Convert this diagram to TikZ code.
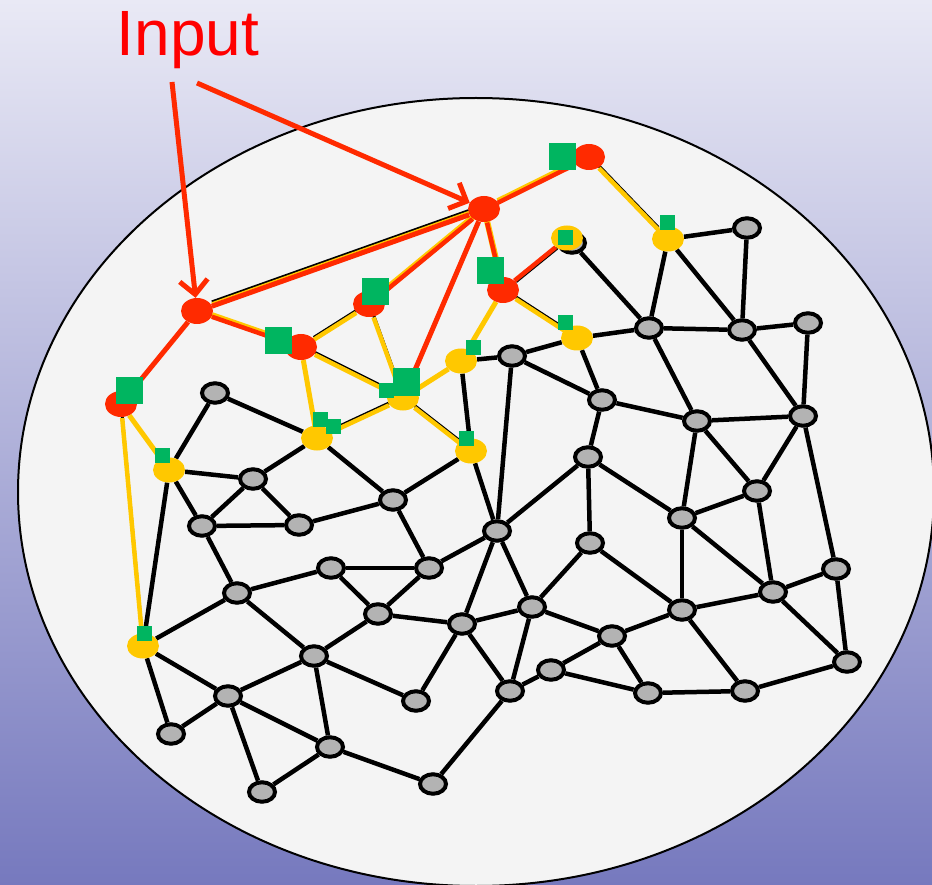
\documentclass[tikz,border=0pt]{standalone}
\usepackage{fontspec}
\setmainfont{Liberation Sans}
\usetikzlibrary{shapes.geometric,arrows.meta}
\pgfdeclarelayer{bgl}\pgfdeclarelayer{edgel}\pgfdeclarelayer{front}
\pgfsetlayers{bgl,edgel,main,front}
\definecolor{gnode}{HTML}{B3B3B3}
\definecolor{ynode}{HTML}{FFC800}
\definecolor{rnode}{HTML}{FF2A00}
\definecolor{gsq}{HTML}{00B560}
\definecolor{bgtop}{HTML}{E9E9F5}
\definecolor{bgbot}{HTML}{7679BE}
\definecolor{ellfill}{HTML}{F4F4F4}
\definecolor{txtred}{HTML}{FF0000}
\tikzset{
 gn/.style={ellipse, draw=black, line width=4pt, fill=gnode, minimum width=26pt, minimum height=19.5pt, inner sep=0pt},
 yn/.style={ellipse, fill=ynode, minimum width=32pt, minimum height=25pt, inner sep=0pt},
 rn/.style={ellipse, fill=rnode, minimum width=32pt, minimum height=26pt, inner sep=0pt},
 bsq/.style={rectangle, fill=gsq, minimum size=27pt, inner sep=0pt},
 ssq/.style={rectangle, fill=gsq, minimum size=15pt, inner sep=0pt},
 bl/.style={draw=black, line width=4.5pt},
 yl/.style={draw=ynode, line width=5pt},
 rl/.style={draw=rnode, line width=5pt},
 arr/.style={draw=rnode, line width=5pt, -{Straight Barb[length=14pt,width=28pt]}},
}
\begin{document}
\begin{tikzpicture}[x=1pt,y=-1pt]
\useasboundingbox (0,0) rectangle (932,885);
\begin{pgfonlayer}{bgl}
\fill[top color=bgtop, bottom color=bgbot] (0,0) rectangle (932,885);
\draw[line width=2pt, fill=ellfill] (476,492) ellipse [x radius=458pt, y radius=394pt];
\end{pgfonlayer}

% gray nodes
\foreach \n/\x/\y in {g1/215/393, g2/253/479, g3/202/526, g4/299/525, g5/393/500, g6/497/531,
  g7/331/568, g8/429/568, g9/237/593, g10/378/614, g11/462/624, g12/314/656, g13/228/696,
  g14/416/701, g15/171/734, g16/330/747, g17/262/792, g18/433/784, g19/512/356, g20/649/328,
  g21/742/330, g22/808/323, g23/747/228, g24/602/400, g25/697/421, g26/803/416, g27/588/457,
  g28/757/491, g29/682/518, g30/590/543, g31/532/607, g32/682/610, g33/773/592, g34/836/569,
  g35/612/636, g36/551/670, g37/510/691, g38/648/693, g39/745/691, g40/847/662, yAs/572/243}
  \node[gn] (\n) at (\x,\y) {};

% yellow nodes
\foreach \n/\x/\y in {yA/567/238, yB/668/239, yC/577/338, yD/461/361, yE/403/398,
  yF/317/438, yG/471/451, yH/169/470, yI/143/646}
  \node[yn] (\n) at (\x,\y) {};

% red nodes
\foreach \n/\x/\y in {rA/197/311, rB/484/209, rC/589/157, rD/369/304, rE/301/347,
  rF/503/290, rG/121/404}
  \node[rn] (\n) at (\x,\y) {};

\begin{pgfonlayer}{edgel}
% base black edges
\foreach \a/\b in {g1/yH, g1/yF, yH/g2, yH/g3, yH/yI, g2/yF, g2/g3, g2/g4, g3/g4, g4/g5,
  yF/g5, g5/yG, g5/g8, g3/g9, g9/g7, g9/yI, g9/g12, g7/g8, g7/g10, g8/g10, g8/g6,
  g10/g11, g10/g12, yG/g6, yD/yG, g6/g11, g6/g19, g6/g27, g6/g31, yI/g13, yI/g15,
  g12/g13, g12/g14, g12/g16, g13/g15, g13/g17, g13/g16, g16/g17, g16/g18, g18/g37,
  g11/g14, g11/g37, g11/g31, g31/g30, g31/g37, g31/g35, g30/g32, g29/g32, g29/g33,
  g32/g33, g32/g35, g32/g39, g33/g34, g33/g40, g34/g40, g39/g40, g38/g39, g35/g36,
  g35/g38, g36/g38, g36/g37, g28/g33, g26/g34, g29/g28, g25/g29, g27/g29, yD/g19,
  g19/yC, g19/g24, yC/g20, yC/g24, yAs/g20, g20/yB, g20/g21, g20/g25, g21/yB, g21/g23,
  yB/g23, g21/g22, g21/g26, g22/g26, g24/g25, g24/g27, g25/g26, g25/g28, g26/g28, g27/g30}
  \draw[bl] (\a) -- (\b);
% yellow over black
\foreach \a/\b in {rD/rE, rE/yE, rD/yE, yE/yF, yE/yG, rC/yB, rF/yC, rG/yI} {
  \draw[bl, line width=3pt, transform canvas={yshift=1.5pt}] (\a) -- (\b);
  \draw[yl, line width=4.5pt, transform canvas={yshift=-0.8pt}] (\a) -- (\b);
}
% pure yellow
\foreach \a/\b in {rE/yF, yE/yD, rF/yD, rG/yH}
  \draw[yl] (\a) -- (\b);
% red over yellow
\foreach \a/\b in {rA/rE, rB/rC, rB/rD, rB/rF} {
  \draw[yl, line width=6pt, transform canvas={yshift=1pt}] (\a) -- (\b);
  \draw[rl, line width=4.5pt, transform canvas={yshift=-0.6pt}] (\a) -- (\b);
}
% pure red
\foreach \a/\b in {rA/rG, rB/yE}
  \draw[rl] (\a) -- (\b);
% red over black
\draw[bl, line width=3pt, transform canvas={xshift=1.5pt,yshift=-1pt}] (rF) -- (yA);
\draw[rl, line width=4.5pt] (rF) -- (yA);
% triple band rA-rB
\draw[bl, line width=3pt, transform canvas={yshift=3.8pt}] (rA) -- (rB);
\draw[yl, line width=3pt, transform canvas={yshift=2pt}] (rA) -- (rB);
\draw[rl, line width=5pt, transform canvas={yshift=-0.5pt}] (rA) -- (rB);
\end{pgfonlayer}

\begin{pgfonlayer}{front}
% green squares
\node[ssq] (s1) at (386,390) {};
\foreach \n/\x/\y in {b1/562/157, b2/375/292, b3/278/341, b4/490/271, b5/129/390, b6/406/382}
  \node[bsq] (\n) at (\x,\y) {};
\foreach \n/\x/\y in {s2/320/419, s3/333/426, s4/466/438, s5/473/348, s6/565/238,
  s7/667/223, s8/565/323, s9/162/455, s10/144/633}
  \node[ssq] (\n) at (\x,\y) {};
% input arrows
\coordinate (in1) at (172,82);
\coordinate (in2) at (197,83);
\draw[arr] (in1) -- (rA);
\draw[arr] (in2) -- (rB);
\end{pgfonlayer}

\node[anchor=base, text=txtred, font=\fontsize{64}{64}\selectfont, inner sep=0pt] (title) at (188,56) {Input};
\end{tikzpicture}
\end{document}
